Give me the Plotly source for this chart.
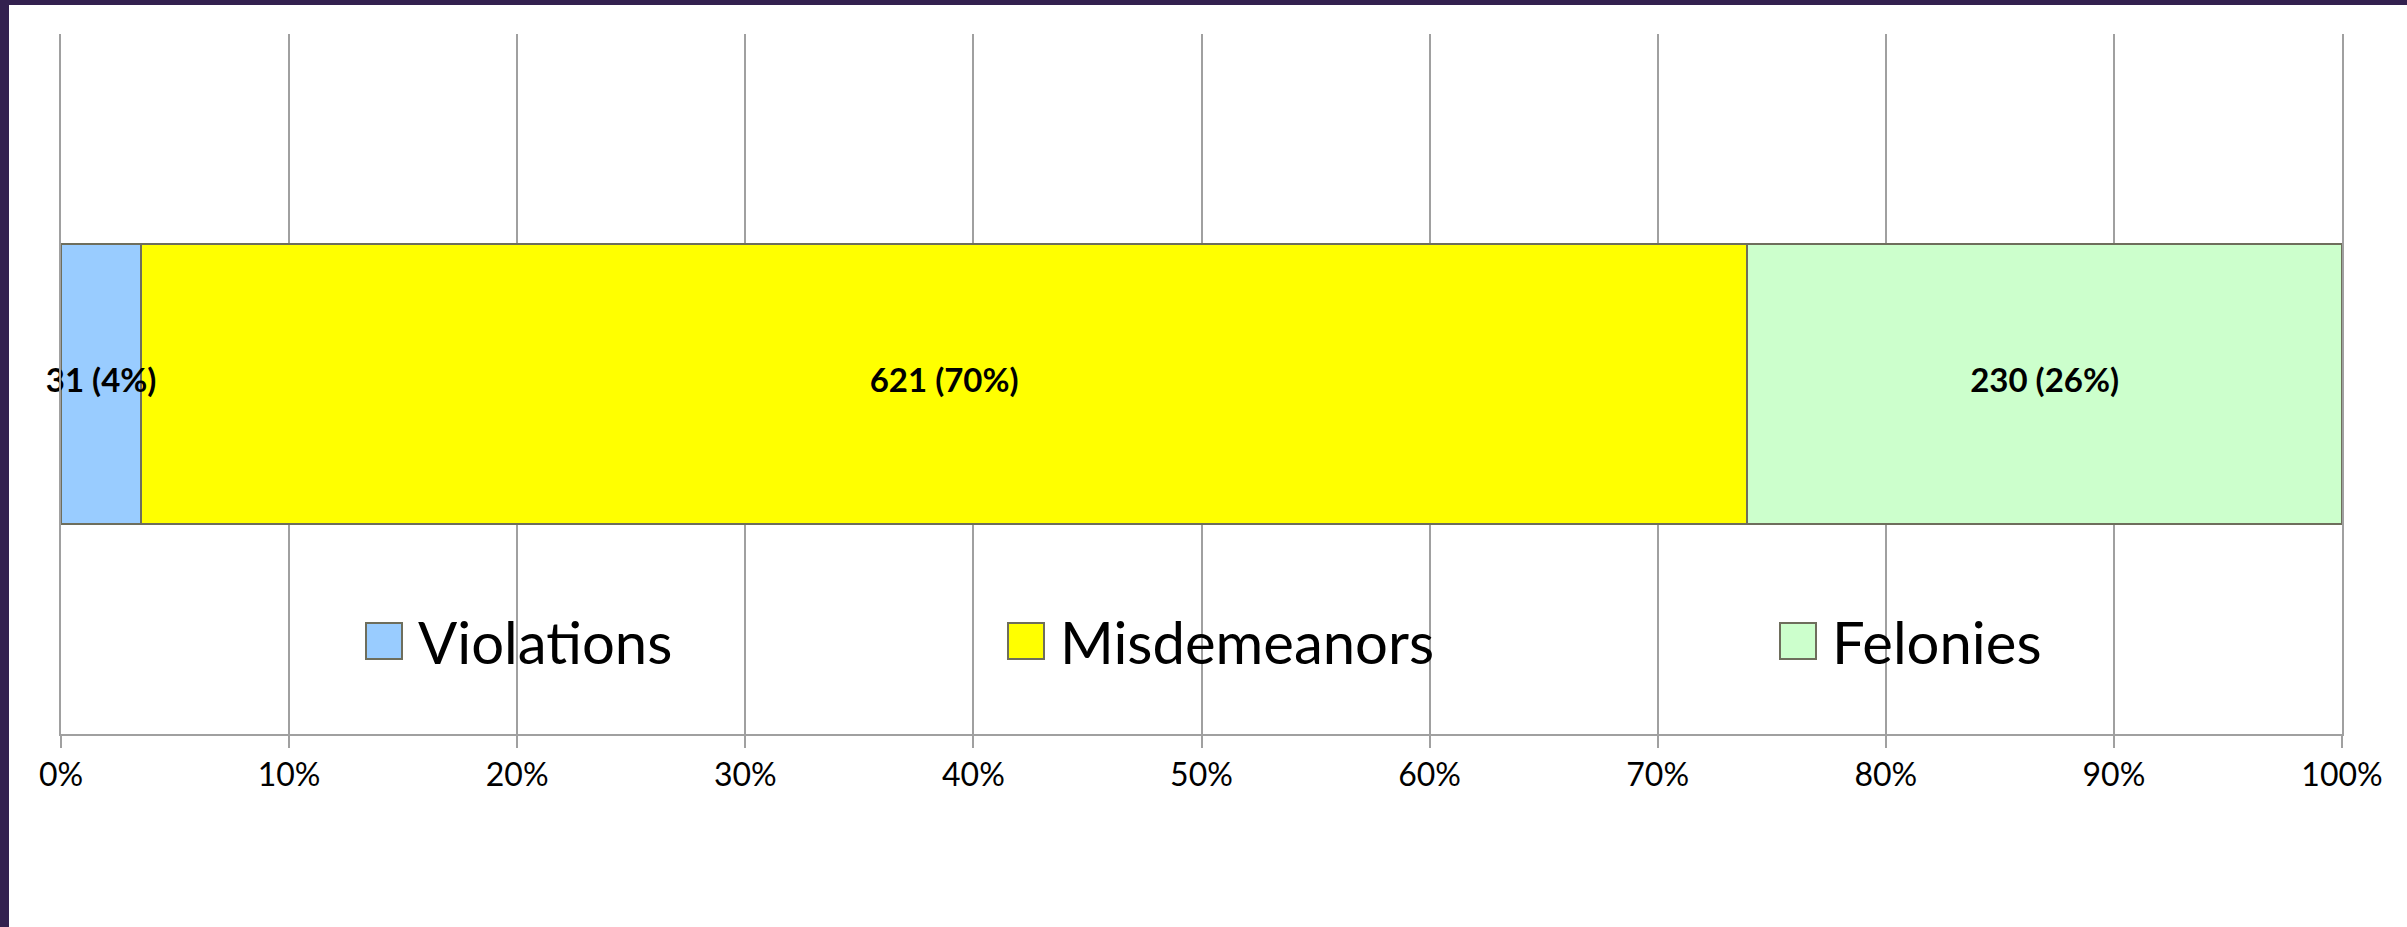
import plotly.graph_objects as go

# ---- data ----
categories = ["Violations", "Misdemeanors", "Felonies"]
counts = [31, 621, 230]
colors = ["#99CCFF", "#FFFF00", "#CCFFCC"]
tick_vals = [0, 10, 20, 30, 40, 50, 60, 70, 80, 90, 100]
tick_text = [f"{v}%" for v in tick_vals]

total = sum(counts)
shares = [c / total * 100 for c in counts]
labels = [f"{c} ({round(s)}%)" for c, s in zip(counts, shares)]
# label anchor = middle of each stacked segment (derived from the data)
mids = []
acc = 0.0
for s in shares:
    mids.append(acc + s / 2)
    acc += s

W, H = 2407, 927
L, R, T, B = 61, 2407 - 2342, 34, 927 - 734
PW, PH = W - L - R, H - T - B

def px_x(px):
    return (px - L) / PW

def px_y(py):
    return (H - B - py) / PH

FONT = "Lato, Carlito, Calibri, 'Open Sans', sans-serif"
OUTLINE = "#6E6E5C"
GRID = "#A0A0A0"

fig = go.Figure()
for name, s, col in zip(categories, shares, colors):
    fig.add_trace(go.Bar(
        x=[s], y=[0], orientation="h", name=name, width=1,
        marker=dict(color=col, line=dict(color=OUTLINE, width=2)),
        hoverinfo="name+x", showlegend=False,
    ))

# data labels on top of all bars
fig.add_trace(go.Scatter(
    x=mids, y=[0] * len(mids), mode="text", text=labels,
    textposition="middle center", cliponaxis=False,
    textfont=dict(family=FONT, size=33, color="black", weight="bold"),
    hoverinfo="skip", showlegend=False,
))

shapes = []
annotations = []
# custom legend (large square swatches like the original)
legend_px = [366, 1008, 1780]
for name, col, lx in zip(categories, colors, legend_px):
    shapes.append(dict(type="rect", xref="paper", yref="paper",
                       x0=px_x(lx), x1=px_x(lx + 36), y0=px_y(659), y1=px_y(623),
                       fillcolor=col, line=dict(color=OUTLINE, width=2), layer="above"))
    annotations.append(dict(xref="paper", yref="paper", x=px_x(lx + 50), y=px_y(641),
                            xanchor="left", yanchor="middle", showarrow=False,
                            text=name, font=dict(family=FONT, size=58, color="black")))

# purple frame edges (slide background)
FRAME = "#33214F"
shapes.append(dict(type="rect", xref="paper", yref="paper",
                   x0=px_x(0), x1=px_x(9), y0=px_y(H), y1=px_y(0),
                   fillcolor=FRAME, line=dict(width=0), layer="above"))
shapes.append(dict(type="rect", xref="paper", yref="paper",
                   x0=px_x(0), x1=px_x(W), y0=px_y(5), y1=px_y(0),
                   fillcolor=FRAME, line=dict(width=0), layer="above"))

fig.update_layout(
    width=W, height=H,
    margin=dict(l=L, r=R, t=T, b=B, pad=0),
    barmode="stack",
    plot_bgcolor="white", paper_bgcolor="white",
    font=dict(family=FONT, color="black"),
    shapes=shapes, annotations=annotations,
    showlegend=False,
    xaxis=dict(
        range=[0, 100], tickmode="array", tickvals=tick_vals, ticktext=tick_text,
        showgrid=True, gridcolor=GRID, gridwidth=2, zeroline=False,
        showline=True, linecolor=GRID, linewidth=2,
        ticks="outside", ticklen=12, tickwidth=2, tickcolor=GRID,
        tickfont=dict(family=FONT, size=32, color="black"),
        fixedrange=True,
    ),
    yaxis=dict(range=[-1.25, 1.25], showticklabels=False, showgrid=False,
               zeroline=False, ticks="", showline=True, mirror=True,
               linecolor=GRID, linewidth=2, fixedrange=True),
)

fig.write_html("out.html")
